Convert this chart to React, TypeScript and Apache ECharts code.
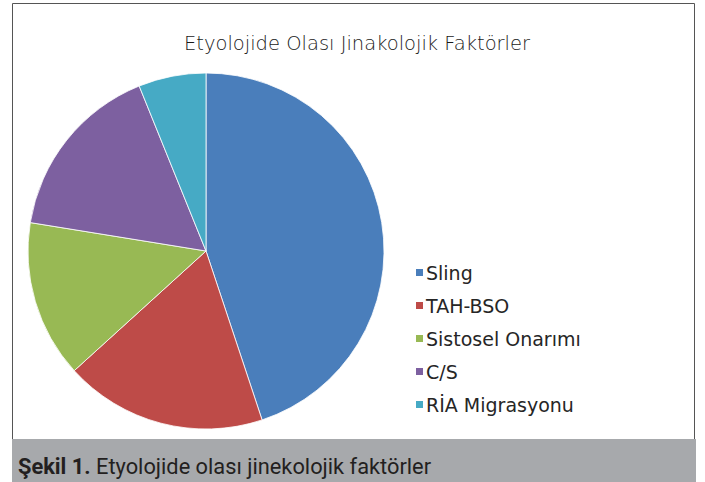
import React, { useEffect, useRef } from "react";
import * as echarts from "echarts";

const categories = ["Sling", "TAH-BSO", "Sistosel Onarımı", "C/S", "RİA Migrasyonu"];
const values = [22, 9, 7, 8, 3];
const colors = ["#4a7ebb", "#be4b48", "#98b954", "#7d60a0", "#46aac5"];
const titleText = "Etyolojide Olası Jinakolojik Faktörler";
const captionBold = "Şekil 1.";
const captionText = " Etyolojide olası jinekolojik faktörler";

export default function App() {
  const ref = useRef<HTMLDivElement>(null);
  useEffect(() => {
    if (!ref.current) return;
    const chart = echarts.init(ref.current, null, { renderer: "svg" });
    chart.setOption({
      animation: false,
      backgroundColor: "#ffffff",
      title: {
        text: titleText,
        left: 352,
        textAlign: "center",
        top: 28,
        textStyle: { fontFamily: "DejaVu Sans", fontWeight: 300, fontSize: 19.5, color: "#1a1a1a" },
      },
      legend: {
        orient: "vertical",
        left: 409,
        top: 258,
        icon: "rect",
        itemWidth: 9,
        itemHeight: 9,
        itemGap: 14,
        textStyle: { fontFamily: "DejaVu Sans", fontSize: 19, color: "#262626", padding: [0, 0, 0, -3] },
        data: categories,
      },
      graphic: [
        {
          type: "rect",
          shape: { x: 12.5, y: 3.5, width: 682, height: 436 },
          style: { fill: "none", stroke: "#555555", lineWidth: 1 },
          z: -1,
        },
        {
          type: "rect",
          shape: { x: 12, y: 439, width: 684, height: 43 },
          style: { fill: "#a7a9ac" },
        },
        {
          type: "text",
          x: 18,
          y: 466,
          style: {
            text: "{b|" + captionBold + "}{n|" + captionText + "}",
            verticalAlign: "middle",
            rich: {
              b: { fontFamily: "Roboto", fontWeight: "bold", fontSize: 21.8, fill: "#231f20" },
              n: { fontFamily: "Roboto", fontSize: 21.8, fill: "#231f20" },
            },
          },
        },
      ],
      series: [
        {
          type: "pie",
          center: [206, 251],
          radius: 178,
          startAngle: 90,
          clockwise: true,
          label: { show: false },
          labelLine: { show: false },
          itemStyle: { borderColor: "#ffffff", borderWidth: 0.8 },
          data: categories.map((c, i) => ({ name: c, value: values[i], itemStyle: { color: colors[i] } })),
        },
      ],
    });
    return () => chart.dispose();
  }, []);
  return <div ref={ref} style={{ position: "absolute", left: 0, top: 0, width: 705, height: 482 }} />;
}
